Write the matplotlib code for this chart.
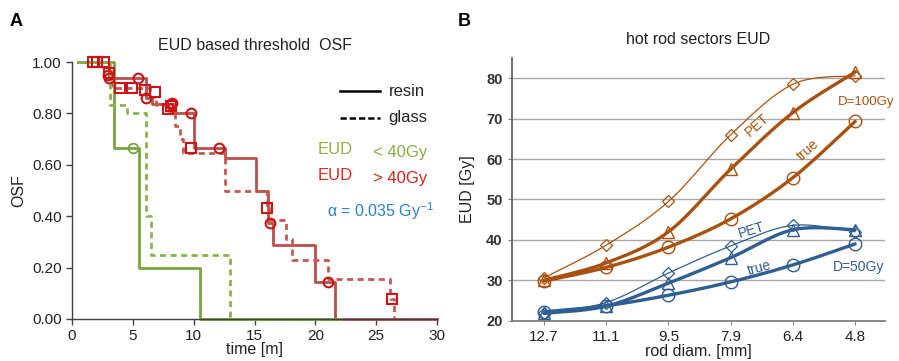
import numpy as np
import matplotlib
matplotlib.use("Agg")
import matplotlib.pyplot as plt

plt.rcParams['font.family'] = ['Liberation Sans', 'DejaVu Sans']
plt.rcParams['mathtext.fontset'] = 'custom'
plt.rcParams['mathtext.rm'] = 'Liberation Sans'

# ---------------- Panel A data (Kaplan-Meier steps) ----------------
green_resin_t = [0.5, 3.45, 5.5, 10.5, 22.0]
green_resin_s = [1.0, 0.667, 0.20, 0.0, 0.0]
green_glass_t = [0.5, 3.1, 4.5, 6.05, 6.5, 13.0, 22.0]
green_glass_s = [1.0, 0.833, 0.80, 0.40, 0.25, 0.0, 0.0]
red_resin_t = [0.5, 3.0, 6.1, 6.6, 8.3, 10.0, 12.6, 15.1, 16.1, 16.5, 20.0, 21.6, 30.0]
red_resin_s = [1.0, 0.937, 0.86, 0.835, 0.80, 0.667, 0.625, 0.50, 0.375, 0.286, 0.143, 0.0, 0.0]
red_glass_t = [0.5, 3.0, 3.3, 6.4, 6.9, 8.0, 8.5, 8.9, 9.1, 12.6, 16.0, 16.3, 17.6, 18.1, 21.0, 26.1, 26.5, 30.0]
red_glass_s = [1.0, 0.958, 0.90, 0.865, 0.833, 0.81, 0.75, 0.70, 0.647, 0.50, 0.43, 0.385, 0.31, 0.23, 0.155, 0.078, 0.0, 0.0]

green_cens_t = [5.0]
green_cens_s = [0.667]
red_resin_cens_t = [2.95, 3.0, 5.45, 6.05, 8.1, 8.2, 9.8, 12.1, 16.25, 21.0]
red_resin_cens_s = [0.95, 0.937, 0.937, 0.86, 0.835, 0.84, 0.80, 0.667, 0.375, 0.143]
red_glass_cens_t = [1.7, 2.05, 2.6, 3.0, 3.95, 4.9, 6.0, 6.8, 7.9, 8.1, 9.8, 16.05, 26.3]
red_glass_cens_s = [1.0, 1.0, 1.0, 0.958, 0.90, 0.90, 0.89, 0.885, 0.816, 0.83, 0.665, 0.43, 0.078]

a_xticks = [0, 5, 10, 15, 20, 25, 30]
a_yticks = [0.0, 0.2, 0.4, 0.6, 0.8, 1.0]

# ---------------- Panel B data ----------------
rod_labels = ['12.7', '11.1', '9.5', '7.9', '6.4', '4.8']
brown_pet_thin = [30.6, 38.7, 49.5, 66.0, 78.5, 80.6]
brown_pet_thick = [30.0, 34.3, 42.0, 57.5, 71.5, 81.5]
brown_true = [29.8, 33.2, 38.2, 45.2, 55.4, 69.3]
blue_pet_thin = [22.0, 24.5, 31.8, 38.5, 43.6, 42.0]
blue_pet_thick = [21.8, 23.6, 29.3, 35.6, 42.5, 42.5]
blue_true = [22.2, 23.7, 26.3, 29.6, 33.8, 39.0]
b_yticks = [20, 30, 40, 50, 60, 70, 80]


def smooth(y, n=30):
    """Excel-like smoothed line (Catmull-Rom / Bezier) through points."""
    y = np.asarray(y, float)
    x = np.arange(len(y), dtype=float)
    P = np.column_stack([x, y])
    Pe = np.vstack([P[0], P, P[-1]])
    out = []
    for i in range(len(P) - 1):
        p0, p1, p2, p3 = Pe[i], Pe[i + 1], Pe[i + 2], Pe[i + 3]
        c1 = p1 + (p2 - p0) / 6.0
        c2 = p2 - (p3 - p1) / 6.0
        t = np.linspace(0, 1, n)[:, None]
        seg = ((1 - t) ** 3) * p1 + 3 * ((1 - t) ** 2) * t * c1 + 3 * (1 - t) * t ** 2 * c2 + t ** 3 * p2
        out.append(seg if i == 0 else seg[1:])
    out = np.vstack(out)
    return out[:, 0], out[:, 1]


fig = plt.figure(figsize=(8.99, 3.61), dpi=100)

GREEN = '#79a53c'
GREEN_D = '#8ab44c'
RED_L = '#b9504c'
RED_D = '#c45a55'
RED_M = '#cc1418'
BROWN = '#a9520f'
BLUE = '#2f5e93'
AX = '#404040'

# ================= Panel A =================
axA = fig.add_axes([72 / 899, 42 / 361, 365 / 899, 257 / 361])
axA.step(red_resin_t, red_resin_s, where='post', color=RED_L, lw=2.0, clip_on=False)
axA.step(red_glass_t, red_glass_s, where='post', color=RED_D, lw=2.0, ls=(0, (2.2, 1.6)), clip_on=False)
axA.step(green_resin_t, green_resin_s, where='post', color=GREEN, lw=2.0, clip_on=False)
axA.step(green_glass_t, green_glass_s, where='post', color=GREEN_D, lw=2.0, ls=(0, (2.2, 1.6)), clip_on=False)
axA.plot(green_cens_t, green_cens_s, 'o', mfc='none', mec=GREEN, mew=1.3, ms=7, clip_on=False)
axA.plot(red_resin_cens_t, red_resin_cens_s, 'o', mfc='none', mec=RED_M, mew=1.5, ms=7, clip_on=False)
axA.plot(red_glass_cens_t, red_glass_cens_s, 's', mfc='none', mec=RED_M, mew=1.5, ms=7, clip_on=False)

axA.set_xlim(0, 30)
axA.set_ylim(0, 1.0)
axA.set_xticks(a_xticks)
axA.set_yticks(a_yticks)
axA.set_yticklabels([f'{v:.2f}' for v in a_yticks])
for s in ['top', 'right']:
    axA.spines[s].set_visible(False)
for s in ['left', 'bottom']:
    axA.spines[s].set_color(AX)
    axA.spines[s].set_linewidth(1.0)
axA.tick_params(direction='out', length=4, width=1, colors=AX, labelsize=11, labelcolor='#222222')
axA.set_xlabel('time [m]', fontsize=11.5, color='#222222', labelpad=-1)
axA.set_ylabel('OSF', fontsize=11.5, color='#222222', labelpad=4)
axA.set_title('EUD based threshold  OSF', fontsize=11.5, color='#222222', pad=9)

# legend-like annotations
fig.lines.append(plt.Line2D([340 / 899, 380 / 899], [1 - 91 / 361] * 2, color='black', lw=1.8, transform=fig.transFigure))
fig.lines.append(plt.Line2D([340 / 899, 380 / 899], [1 - 117.5 / 361] * 2, color='black', lw=1.8,
                            ls=(0, (2.5, 1.2)), transform=fig.transFigure))
fig.text(389 / 899, 1 - 91 / 361, 'resin', fontsize=12, color='#222222', va='center')
fig.text(388 / 899, 1 - 117.5 / 361, 'glass', fontsize=12, color='#222222', va='center')
fig.text(318 / 899, 1 - 149 / 361, 'EUD', fontsize=12, color='#9aa84a', va='center')
fig.text(373 / 899, 1 - 153 / 361, '< 40Gy', fontsize=12, color='#86ad45', va='center')
fig.text(318 / 899, 1 - 175 / 361, 'EUD', fontsize=12, color='#dd2a1e', va='center')
fig.text(373 / 899, 1 - 179 / 361, '> 40Gy', fontsize=12, color='#d0201c', va='center')
fig.text(327 / 899, 1 - 211 / 361, r'α = 0.035 Gy$^{-1}$', fontsize=11.5, color='#2a80d0', va='center')

fig.text(10 / 899, 1 - 22 / 361, 'A', fontsize=13, fontweight='bold', va='center')
fig.text(458 / 899, 1 - 22 / 361, 'B', fontsize=13, fontweight='bold', va='center')

# ================= Panel B =================
axB = fig.add_axes([511.7 / 899, 40.3 / 361, 373.3 / 899, 262.7 / 361])
xpos = np.arange(len(rod_labels))


def series(ax, vals, color, lw, marker, ms, mew):
    sx, sy = smooth(vals)
    ax.plot(sx, sy, color=color, lw=lw, solid_capstyle='round', zorder=3)
    ax.plot(xpos, vals, marker, mfc='none', mec=color, ms=ms, mew=mew, zorder=4, clip_on=False)


series(axB, brown_pet_thin, BROWN, 0.9, 'D', 6.5, 0.9)
series(axB, brown_pet_thick, BROWN, 2.4, '^', 8, 1.0)
series(axB, brown_true, BROWN, 2.4, 'o', 9, 1.0)
series(axB, blue_pet_thin, BLUE, 0.9, 'D', 6.5, 0.9)
series(axB, blue_pet_thick, BLUE, 2.4, '^', 8, 1.0)
series(axB, blue_true, BLUE, 2.4, 'o', 9, 1.0)

axB.set_xlim(-0.52, 5.48)
axB.set_ylim(20, 85)
axB.set_xticks(xpos)
axB.set_xticklabels(rod_labels)
axB.set_yticks(b_yticks)
axB.yaxis.grid(True, color='#a8a8a8', lw=1.0)
axB.set_axisbelow(True)
for s in ['top', 'right']:
    axB.spines[s].set_visible(False)
axB.spines['left'].set_color('#555555')
axB.spines['bottom'].set_color('#777777')
axB.spines['left'].set_linewidth(1.2)
axB.spines['bottom'].set_linewidth(1.2)
axB.tick_params(axis='y', direction='out', length=3, colors='#888888', labelsize=10.5, labelcolor='#333333')
axB.tick_params(axis='x', direction='out', length=3, colors='#888888', labelsize=11, labelcolor='#222222')
for lab in axB.get_yticklabels():
    lab.set_fontweight('bold')
axB.set_xlabel('rod diam. [mm]', fontsize=11.5, color='#222222', labelpad=0)
axB.set_ylabel('EUD [Gy]', fontsize=11.5, color='#222222', labelpad=8)
axB.set_title('hot rod sectors EUD', fontsize=11.5, color='#222222', pad=10)

axB.text(3.42, 68.4, 'PET', fontsize=10, color=BROWN, rotation=42, ha='center', va='center')
axB.text(4.25, 62.3, 'true', fontsize=10, color=BROWN, rotation=42, ha='center', va='center')
axB.text(4.73, 74.2, 'D=100Gy', fontsize=9.5, color=BROWN, ha='left', va='center', clip_on=False)
axB.text(3.34, 42.5, 'PET', fontsize=10, color=BLUE, rotation=17, ha='center', va='center')
axB.text(3.47, 33.0, 'true', fontsize=10, color=BLUE, rotation=15, ha='center', va='center')
axB.text(5.05, 33.2, 'D=50Gy', fontsize=10, color=BLUE, ha='center', va='center', clip_on=False)

fig.savefig('out.png', dpi=100)
